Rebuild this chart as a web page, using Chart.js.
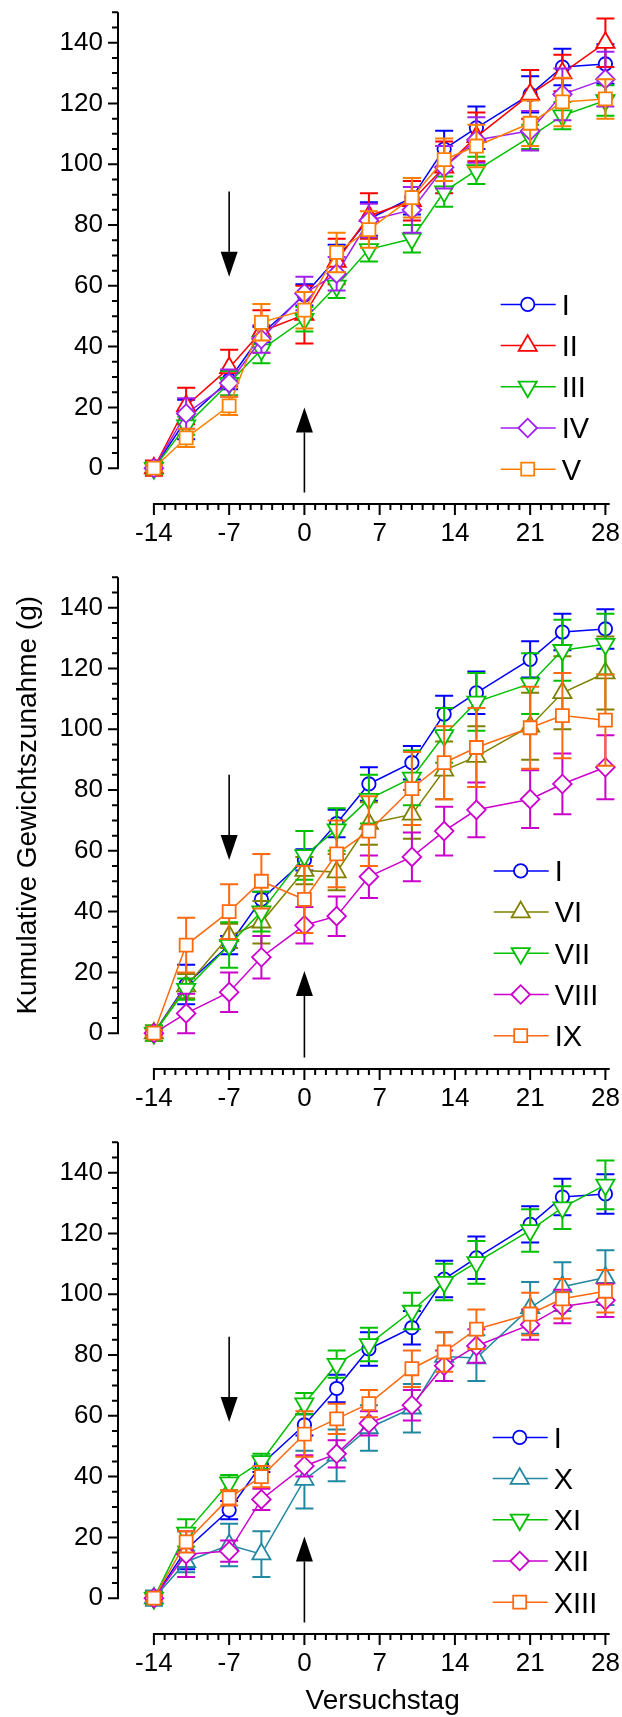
<!DOCTYPE html>
<html>
<head>
<meta charset="utf-8">
<script src="https://cdn.jsdelivr.net/npm/chart.js@4.4.0/dist/chart.umd.min.js"></script>
<style>
  body { margin: 0; background: #fff; }
  .wrap { width: 622px; }
  .panel { position: relative; width: 622px; }
  canvas { display: block; }
</style>
</head>
<body>
<div class="wrap">
  <div class="panel" style="height:565px"><canvas id="c1"></canvas></div>
  <div class="panel" style="height:565px"><canvas id="c2"></canvas></div>
  <div class="panel" style="height:587px"><canvas id="c3"></canvas></div>
</div>
<script>
// Versuchstage und Achsenbeschriftung
const days = [-14, -11, -7, -4, 0, 3, 6, 10, 13, 16, 21, 24, 28];
const xTicks = [-14, -7, 0, 7, 14, 21, 28];
const yTicks = [0, 20, 40, 60, 80, 100, 120, 140];

// Gruppe I (Kontrolle, in allen drei Teilbildern)
const grpI  = [0, 16, 29, 44, 57, 69, 82, 89, 105, 112, 123, 132, 133];
const errI  = [1.5, 6.5, 3, 2.5, 3.5, 4.5, 5.5, 5.5, 6, 7, 6, 6, 6.5];

// Teilbild 1
const grpII  = [0, 20.5, 33, 45, 50.5, 68, 83, 88, 99, 109, 123, 130, 140];
const errII  = [2.5, 6, 6, 7, 9.5, 7.5, 7.5, 6.5, 8.5, 8, 8, 6, 8];
const grpIII = [0, 14, 28, 39, 49, 60, 72, 75.5, 91, 98, 109, 116, 121];
const errIII = [2, 3, 4, 4.5, 4, 4, 4, 4.5, 5, 4.5, 4, 4.5, 5];
const grpIV  = [0, 18, 28, 42.5, 57.5, 64, 81.5, 85, 99, 108, 111, 123, 128];
const errIV  = [1, 5, 4.5, 4.5, 5.5, 5.5, 5.5, 7.5, 7, 7.5, 6.5, 8.5, 9];
const grpV   = [0, 10, 20.5, 48, 52, 71, 78.5, 89, 101.5, 106, 113.5, 120.5, 121.5];
const errV   = [1, 3, 3, 6, 6, 6.5, 6, 6.5, 7, 7, 7.5, 8, 6.5];

// Teilbild 2
const grpVI   = [0, 15.5, 32, 36.5, 53.5, 53, 69, 72, 86.5, 91, 101, 112, 118.5];
const errVI   = [2.5, 4, 4, 7, 4.5, 6, 7, 8, 9.5, 10, 11, 12, 12];
const grpVII  = [0, 14.5, 29, 40, 58.5, 67, 77, 84, 98, 109, 115, 126, 128];
const errVII  = [2.5, 3.5, 7.5, 6.5, 8, 7, 8, 9, 9, 9.5, 10, 10, 10];
const grpVIII = [0, 6.5, 13.5, 25, 35.5, 38.5, 51.5, 58, 66.5, 73.5, 77, 82, 87.5];
const errVIII = [1, 6.5, 6.5, 7, 6, 6.5, 7, 8, 8, 9, 9.5, 10, 10.5];
const grpIX   = [0, 29, 40, 50, 44, 59, 66.5, 80.5, 89, 94, 100.5, 104.5, 103];
const errIX   = [1, 9, 9, 9, 11, 11, 11.5, 12, 12, 13, 13.5, 14, 15];

// Teilbild 3
const grpX    = [0, 12, 17.5, 14.5, 39, 47, 56, 62.5, 79.5, 79, 95.5, 102.5, 105.5];
const errX    = [2.5, 3.5, 7, 7.5, 9.5, 8.5, 7.5, 8, 8, 7.5, 8.5, 8, 9];
const grpXI   = [0, 21.5, 38, 45, 64, 77, 83.5, 94.5, 104, 110.5, 121, 128.5, 136];
const errXI   = [2, 4.5, 2.5, 2.5, 3.5, 4.5, 5.5, 6, 6, 7, 7, 7, 8];
const grpXII  = [0, 14.5, 15.5, 32.5, 43.5, 47.5, 57.5, 63.5, 76.5, 83, 90, 96, 98];
const errXII  = [1, 7.5, 3.5, 3.5, 3.5, 4.5, 4, 5, 5, 5.5, 5, 5.5, 5.5];
const grpXIII = [0, 18.5, 33, 40, 54, 59, 64, 75.5, 81, 88.5, 93.5, 98.5, 101];
const errXIII = [1, 3.5, 2.5, 3.5, 7.5, 5, 4.5, 6, 6.5, 6.5, 7, 6.5, 7];

// Pfeile (Tag, von, bis)
const arrowDownX = -7, arrowDownFrom = [91, 85, 86], arrowDownTo = [63, 57, 58];
const arrowUpX = 0, arrowUpFrom = [-8, -8, -8], arrowUpTo = [20, 20.5, 20.3];

const colors = {
  I: '#0000ff', II: '#ff0000', III: '#00c000', IV: '#a020f0', V: '#ff8000',
  VI: '#808000', VII: '#00c000', VIII: '#cc00cc', IX: '#ff6a10',
  X: '#2088a0', XI: '#00c000', XII: '#cc00cc', XIII: '#ff6a10'
};
// Symbol je Position im Teilbild: Kreis, Dreieck, Dreieck unten, Raute, Quadrat
const symbols = [
  { style: 'circle', rot: 0, r: 6.7 },
  { style: 'triangle', rot: 0, r: 10.5 },
  { style: 'triangle', rot: 180, r: 10.5 },
  { style: 'rectRot', rot: 0, r: 9.3 },
  { style: 'rect', rot: 0, r: 9.2 }
];
// Legende: horizontale Verschiebung je Teilbild
const legendShift = [7, 0, -1];

Chart.defaults.font.family = "'Liberation Sans', Arial, sans-serif";
Chart.defaults.color = '#000';

function makeSet(name, vals, errs, idx) {
  const s = symbols[idx];
  return {
    label: name,
    data: days.map((d, i) => ({ x: d, y: vals[i] })),
    errors: errs,
    borderColor: colors[name],
    backgroundColor: '#fff',
    borderWidth: 1.5,
    pointStyle: s.style,
    pointRotation: s.rot,
    pointRadius: s.r,
    pointHoverRadius: s.r,
    pointBorderWidth: 1.8,
    pointBackgroundColor: '#fff',
    pointBorderColor: colors[name],
    order: -idx,
    clip: false,
    tension: 0
  };
}

function drawMarker(ctx, s, color, x, y) {
  ctx.save();
  ctx.translate(x, y);
  ctx.rotate(s.rot * Math.PI / 180);
  ctx.beginPath();
  const r = s.r;
  if (s.style === 'circle') ctx.arc(0, 0, r, 0, Math.PI * 2);
  else if (s.style === 'triangle') {
    for (let k = 0; k < 3; k++) {
      const a = k * 2 * Math.PI / 3;
      ctx.lineTo(Math.sin(a) * r, -Math.cos(a) * r);
    }
    ctx.closePath();
  } else if (s.style === 'rectRot') {
    ctx.moveTo(-r, 0); ctx.lineTo(0, -r); ctx.lineTo(r, 0); ctx.lineTo(0, r); ctx.closePath();
  } else {
    const h = r * Math.SQRT1_2;
    ctx.rect(-h, -h, 2 * h, 2 * h);
  }
  ctx.fillStyle = '#fff';
  ctx.fill();
  ctx.strokeStyle = color;
  ctx.lineWidth = 1.8;
  ctx.stroke();
  ctx.restore();
}

function arrow(ctx, x, yFrom, yTip) {
  const dir = Math.sign(yTip - yFrom), hl = 25, hw = 8.5;
  ctx.beginPath();
  ctx.moveTo(x, yFrom);
  ctx.lineTo(x, yTip - dir * hl);
  ctx.stroke();
  ctx.beginPath();
  ctx.moveTo(x, yTip);
  ctx.lineTo(x - hw, yTip - dir * hl);
  ctx.lineTo(x + hw, yTip - dir * hl);
  ctx.closePath();
  ctx.fill();
}

const deco = {
  id: 'deco',
  beforeDatasetsDraw(chart) {
    const ctx = chart.ctx, xs = chart.scales.x, ys = chart.scales.y;
    const ax = chart.chartArea.left, ay = chart.chartArea.bottom;
    ctx.save();
    ctx.strokeStyle = '#000';
    ctx.lineWidth = 2;
    ctx.beginPath();
    // y-Achse 0..150 mit Teilstrichen
    ctx.moveTo(ax, ys.getPixelForValue(0) + 1);
    ctx.lineTo(ax, ys.getPixelForValue(150));
    for (let v = 0; v <= 150; v += 5) {
      const p = ys.getPixelForValue(v);
      ctx.moveTo(ax, p);
      ctx.lineTo(ax - (v % 20 === 0 ? 10 : 6), p);
    }
    // x-Achse -14..28
    ctx.moveTo(xs.getPixelForValue(-14) - 1, ay);
    ctx.lineTo(xs.getPixelForValue(28.4), ay);
    for (let d = -14; d <= 28; d++) {
      const p = xs.getPixelForValue(d);
      ctx.moveTo(p, ay);
      ctx.lineTo(p, ay + (d % 7 === 0 ? 11 : 6));
    }
    ctx.stroke();
    ctx.restore();
  },
  beforeDatasetDraw(chart, args) {
    const ds = chart.data.datasets[args.index];
    const ys = chart.scales.y, ctx = chart.ctx;
    ctx.save();
    ctx.strokeStyle = ds.borderColor;
    ctx.lineWidth = 2;
    ctx.beginPath();
    args.meta.data.forEach((pt, i) => {
      const v = ds.data[i].y, e = ds.errors[i];
      const top = ys.getPixelForValue(v + e), bot = ys.getPixelForValue(v - e);
      ctx.moveTo(pt.x, top); ctx.lineTo(pt.x, bot);
      ctx.moveTo(pt.x - 9, top); ctx.lineTo(pt.x + 9, top);
      ctx.moveTo(pt.x - 9, bot); ctx.lineTo(pt.x + 9, bot);
    });
    ctx.stroke();
    ctx.restore();
  },
  afterDatasetsDraw(chart, a, opts) {
    const ctx = chart.ctx, xs = chart.scales.x, ys = chart.scales.y;
    const p = opts.panel;
    ctx.save();
    ctx.strokeStyle = '#000';
    ctx.fillStyle = '#000';
    ctx.lineWidth = 1.6;
    arrow(ctx, xs.getPixelForValue(arrowDownX), ys.getPixelForValue(arrowDownFrom[p]), ys.getPixelForValue(arrowDownTo[p]));
    arrow(ctx, xs.getPixelForValue(arrowUpX), ys.getPixelForValue(arrowUpFrom[p]), ys.getPixelForValue(arrowUpTo[p]));

    // Legende
    const right = chart.chartArea.right + legendShift[p];
    const y0 = ys.getPixelForValue(0) + 1 + p * 1.5;
    const n = chart.data.datasets.length;
    ctx.font = "29px 'Liberation Sans', Arial, sans-serif";
    ctx.textBaseline = 'alphabetic';
    ctx.textAlign = 'left';
    chart.data.datasets.forEach((ds, k) => {
      const y = y0 - (n - 1 - k) * 41.2;
      ctx.strokeStyle = ds.borderColor;
      ctx.lineWidth = 1.5;
      ctx.beginPath();
      ctx.moveTo(right - 116, y);
      ctx.lineTo(right - 61, y);
      ctx.stroke();
      drawMarker(ctx, symbols[k], ds.borderColor, right - 89, y);
      ctx.fillStyle = '#000';
      ctx.fillText(ds.label, right - 55, y + 10.4);
    });

    ctx.font = "28px 'Liberation Sans', Arial, sans-serif";
    ctx.fillStyle = '#000';
    if (opts.yTitle) {
      ctx.save();
      ctx.translate(36, ys.getPixelForValue(75));
      ctx.rotate(-Math.PI / 2);
      ctx.textAlign = 'center';
      ctx.fillText(opts.yTitle, 0, 0);
      ctx.restore();
    }
    if (opts.xTitle) {
      ctx.textAlign = 'center';
      ctx.fillText(opts.xTitle, xs.getPixelForValue(7) + 3, chart.chartArea.bottom + 75);
    }
    ctx.restore();
  }
};

function noPad(s) {
  s.paddingLeft = 0; s.paddingRight = 0; s.paddingTop = 0; s.paddingBottom = 0;
}

function makeChart(id, panel, sets, yTitle, xTitle) {
  const cv = document.getElementById(id);
  return new Chart(cv, {
    type: 'line',
    data: { datasets: sets },
    options: {
      responsive: true,
      maintainAspectRatio: false,
      animation: false,
      events: [],
      layout: { padding: { top: 9.4, right: 10.7, bottom: 0, left: 0 } },
      plugins: {
        legend: { display: false },
        tooltip: { enabled: false },
        deco: { panel: panel, yTitle: yTitle, xTitle: xTitle }
      },
      scales: {
        x: {
          type: 'linear',
          min: -17.34, max: 28.4,
          grid: { display: false, drawTicks: false },
          border: { display: false },
          afterFit: s => { s.height = s.chart.height - 504; noPad(s); },
          afterBuildTicks: s => { s.ticks = xTicks.map(v => ({ value: v })); },
          ticks: { autoSkip: false, maxRotation: 0, padding: 14, font: { size: 26 }, color: '#000', callback: v => String(v) }
        },
        y: {
          type: 'linear',
          min: -11.78, max: 150,
          grid: { display: false, drawTicks: false },
          border: { display: false },
          afterFit: s => { s.width = 118; noPad(s); },
          afterBuildTicks: s => { s.ticks = yTicks.map(v => ({ value: v })); },
          ticks: { padding: 15, font: { size: 26 }, color: '#000', callback: v => String(v) }
        }
      }
    },
    plugins: [deco]
  });
}

makeChart('c1', 0, [
  makeSet('I', grpI, errI, 0),
  makeSet('II', grpII, errII, 1),
  makeSet('III', grpIII, errIII, 2),
  makeSet('IV', grpIV, errIV, 3),
  makeSet('V', grpV, errV, 4)
]);
makeChart('c2', 1, [
  makeSet('I', grpI, errI, 0),
  makeSet('VI', grpVI, errVI, 1),
  makeSet('VII', grpVII, errVII, 2),
  makeSet('VIII', grpVIII, errVIII, 3),
  makeSet('IX', grpIX, errIX, 4)
], 'Kumulative Gewichtszunahme (g)');
makeChart('c3', 2, [
  makeSet('I', grpI, errI, 0),
  makeSet('X', grpX, errX, 1),
  makeSet('XI', grpXI, errXI, 2),
  makeSet('XII', grpXII, errXII, 3),
  makeSet('XIII', grpXIII, errXIII, 4)
], null, 'Versuchstag');
</script>
</body>
</html>
